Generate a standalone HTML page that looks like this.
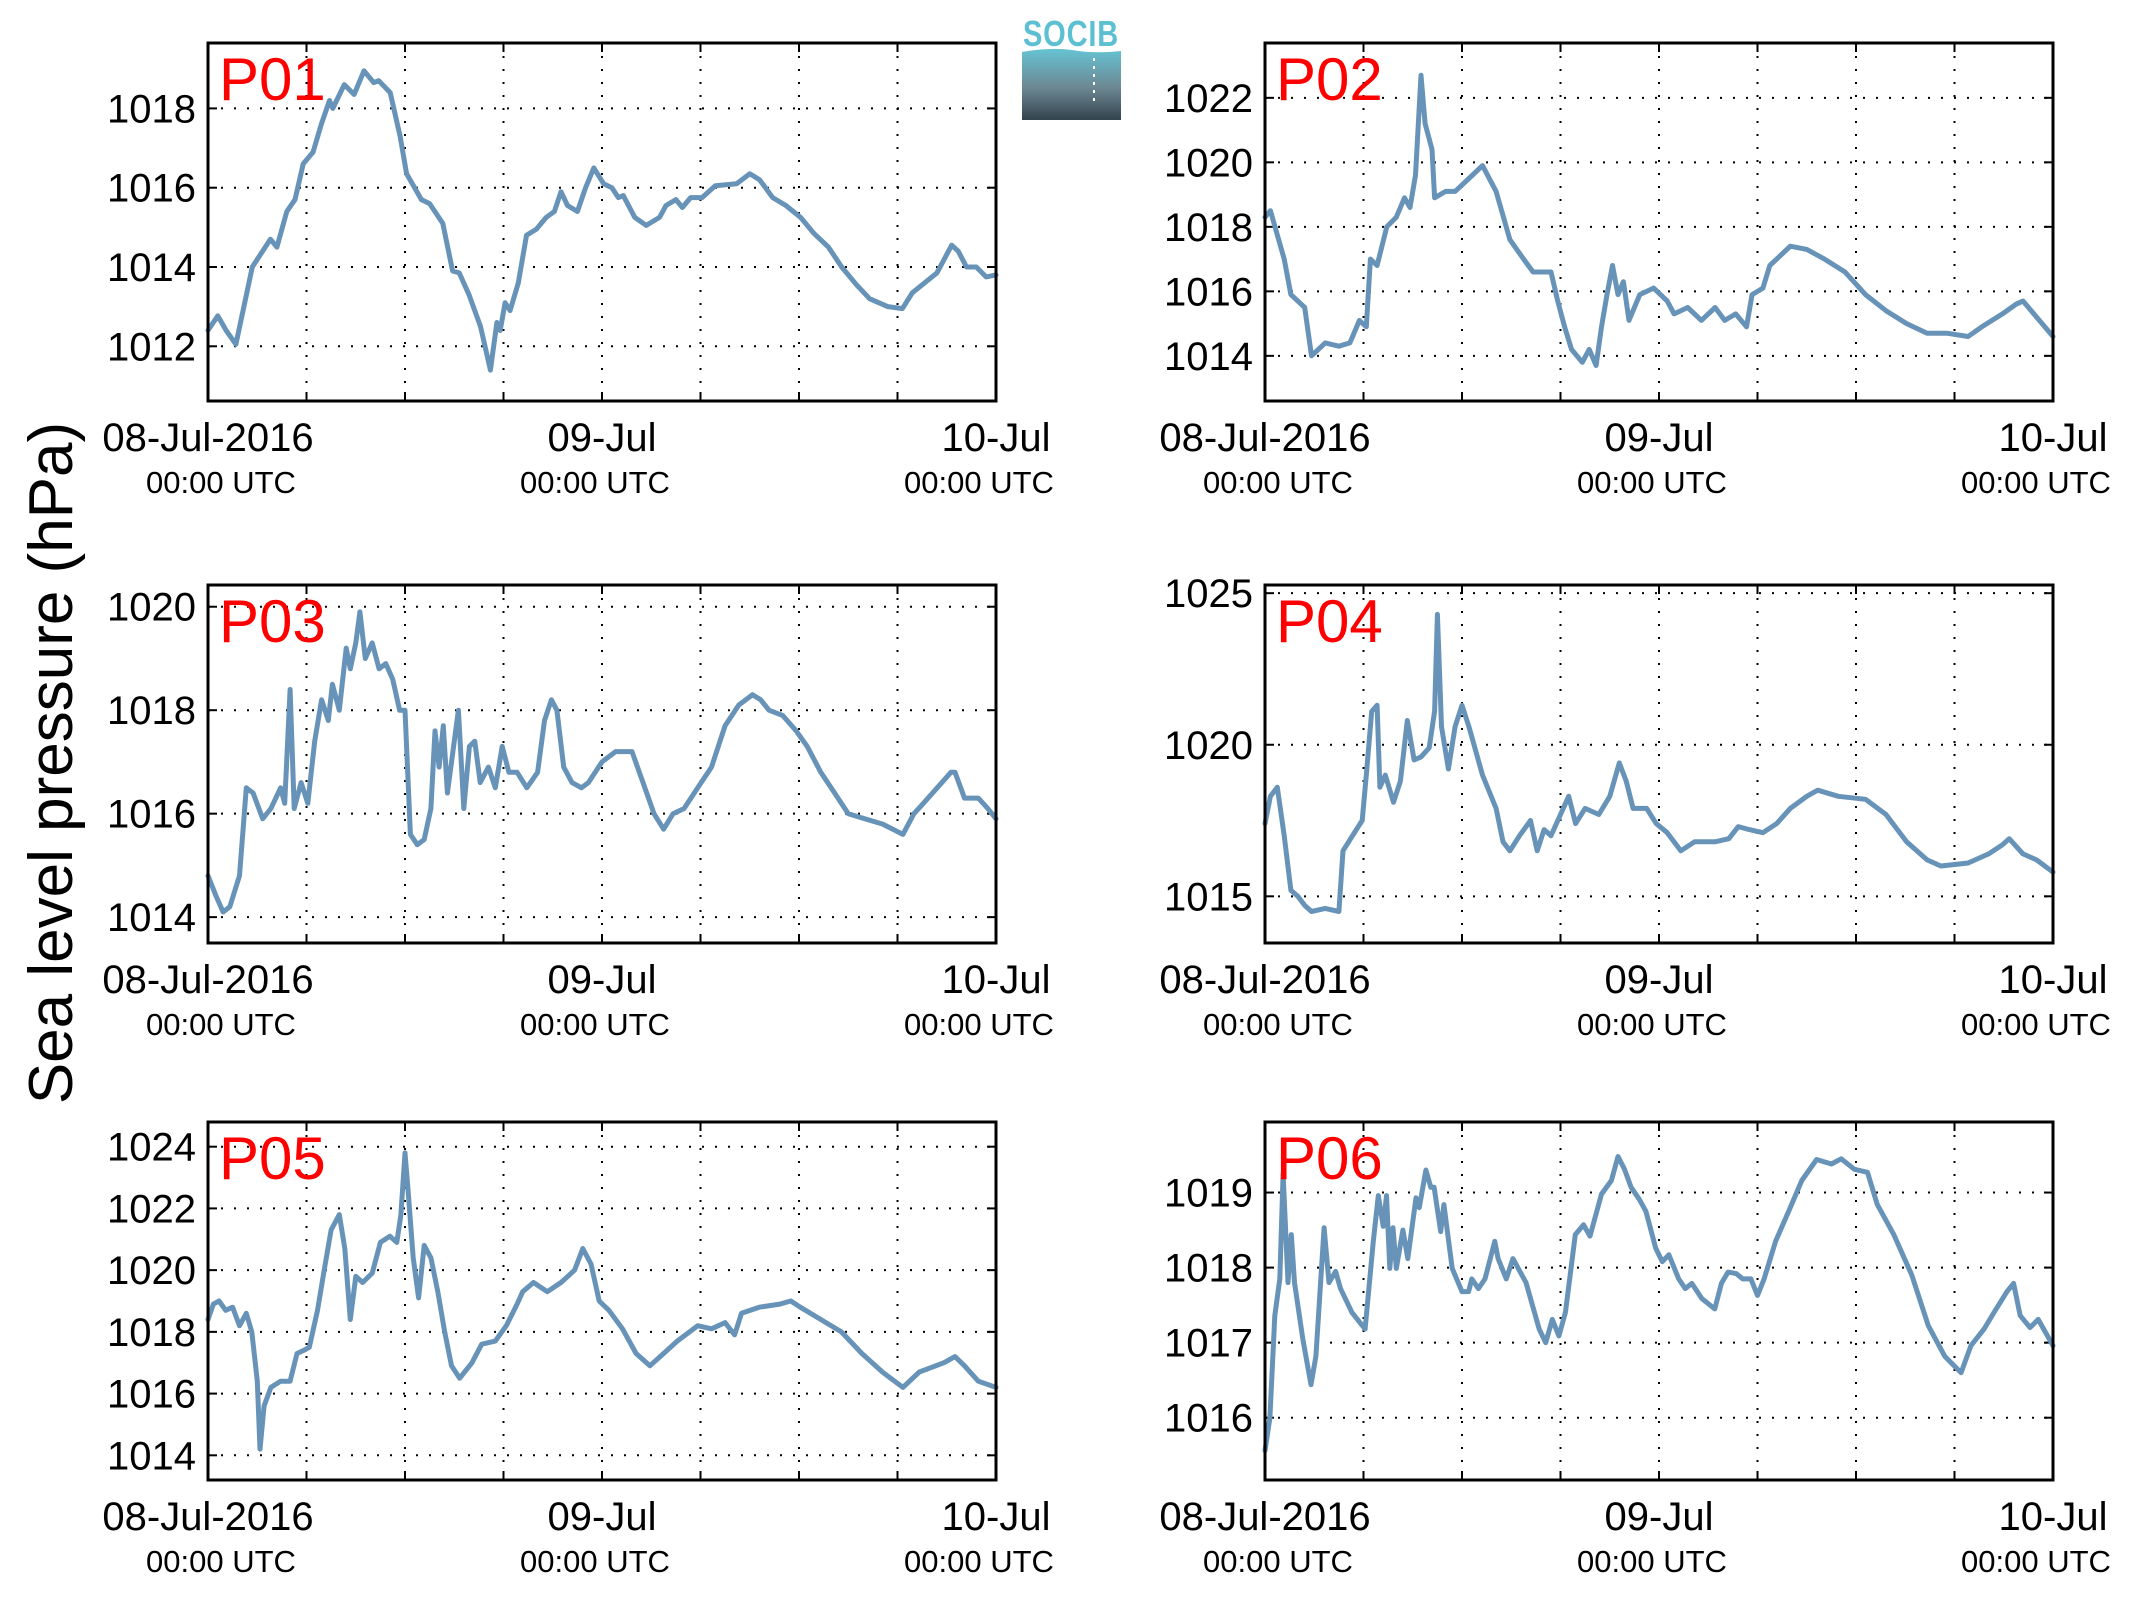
<!DOCTYPE html>
<html><head><meta charset="utf-8"><style>
html,body{margin:0;padding:0;background:#fff;}
svg{display:block;font-family:"Liberation Sans",Arial,sans-serif;}
</style></head><body>
<svg id="fig" width="2142" height="1608" viewBox="0 0 2142 1608" xmlns="http://www.w3.org/2000/svg">
<text x="0" y="0" transform="translate(72,763) rotate(-90)" text-anchor="middle" font-size="62" fill="#000">Sea level pressure (hPa)</text>
<g>
<defs><linearGradient id="lg" x1="0" y1="0" x2="0" y2="1"><stop offset="0" stop-color="#66c3d3"/><stop offset="0.55" stop-color="#6c8792"/><stop offset="1" stop-color="#33434d"/></linearGradient></defs>
<text x="1071" y="46" text-anchor="middle" font-size="36" font-weight="bold" fill="#5cc0d2" letter-spacing="1" textLength="96" lengthAdjust="spacingAndGlyphs">SOCIB</text>
<path d="M1022 52 Q1050 47 1072 50 Q1095 54 1121 51 L1121 120 L1022 120 Z" fill="url(#lg)"/>
<line x1="1094" y1="58" x2="1094" y2="106" stroke="#fff" stroke-width="2" stroke-dasharray="3,5"/>
</g>
<g id="panels"></g>
</svg>
<script>
const p01_t=[0,0.6,1.1,1.7,2.7,3.8,4.2,4.8,5.3,5.8,6.4,6.9,7.4,7.6,8.3,8.9,9.5,10.1,10.4,11.1,11.7,12.1,13.0,13.5,14.3,14.9,15.3,15.9,16.6,17.2,17.6,17.8,18.1,18.4,18.9,19.4,20.0,20.6,21.1,21.5,21.9,22.5,23.0,23.5,24.1,24.6,25.0,25.3,26.0,26.7,27.5,27.9,28.5,28.9,29.4,30.1,30.9,32.2,33.0,33.6,34.4,35.2,36.1,36.9,37.8,38.6,39.5,40.3,41.4,42.3,42.9,43.8,44.4,45.3,45.7,46.2,46.8,47.4,48];
const p01_v=[1012.4,1012.77,1012.4,1012.05,1014.0,1014.7,1014.5,1015.4,1015.7,1016.6,1016.9,1017.6,1018.2,1018.0,1018.6,1018.35,1018.95,1018.65,1018.7,1018.4,1017.3,1016.35,1015.7,1015.6,1015.1,1013.9,1013.85,1013.3,1012.5,1011.4,1012.6,1012.4,1013.1,1012.9,1013.6,1014.8,1014.95,1015.25,1015.4,1015.9,1015.55,1015.4,1016.0,1016.5,1016.1,1016.0,1015.75,1015.8,1015.25,1015.05,1015.25,1015.55,1015.7,1015.5,1015.75,1015.75,1016.05,1016.1,1016.35,1016.2,1015.75,1015.55,1015.25,1014.85,1014.5,1014.0,1013.55,1013.2,1013.0,1012.95,1013.35,1013.65,1013.85,1014.55,1014.4,1014.0,1014.0,1013.75,1013.8];
const p02_t=[0,0.33,1.17,1.58,2.42,2.83,3.67,4.5,5.17,5.75,6.17,6.42,6.83,7.42,8,8.5,8.83,9.17,9.5,9.75,10.17,10.33,11,11.58,12.42,13.25,14.08,14.92,15.75,16.33,17,17.42,17.83,18.25,18.67,19.33,19.75,20.17,20.5,20.83,21.17,21.5,21.83,22.17,22.83,23.67,24.5,24.92,25.75,26.58,27.42,28,28.67,29.33,29.67,30.33,30.75,31.17,32,33,34.08,35.33,36.58,37.83,39.08,40.33,41.58,42.83,43.67,44.92,45.75,46.17,47,48];
const p02_v=[1018.3,1018.5,1017.0,1015.9,1015.5,1014.0,1014.4,1014.3,1014.4,1015.1,1014.9,1017.0,1016.8,1018.0,1018.3,1018.9,1018.6,1019.6,1022.7,1021.2,1020.4,1018.9,1019.1,1019.1,1019.5,1019.9,1019.1,1017.6,1017.0,1016.6,1016.6,1016.6,1015.7,1014.9,1014.2,1013.8,1014.2,1013.7,1014.9,1015.9,1016.8,1015.9,1016.3,1015.1,1015.9,1016.1,1015.7,1015.3,1015.5,1015.1,1015.5,1015.1,1015.3,1014.9,1015.9,1016.1,1016.8,1017.0,1017.4,1017.3,1017.0,1016.6,1015.9,1015.4,1015.0,1014.7,1014.7,1014.6,1014.9,1015.3,1015.6,1015.7,1015.2,1014.6];
const p03_t=[0,0.5,0.92,1.33,1.92,2.33,2.75,3.33,3.83,4.42,4.67,5,5.25,5.67,6.08,6.5,6.92,7.33,7.58,8,8.42,8.67,9,9.25,9.58,10,10.42,10.83,11.25,11.67,12,12.33,12.75,13.17,13.58,13.83,14.08,14.33,14.58,14.92,15.25,15.58,15.92,16.25,16.58,17.08,17.5,17.92,18.33,18.83,19.42,20.08,20.5,20.92,21.25,21.67,22.17,22.75,23.17,24,24.83,25.83,26.5,27.17,27.75,28.33,29,29.83,30.67,31.5,32.33,33.17,33.67,34.17,35,35.83,36.5,37.33,38.17,39,40,41.08,42.33,43,43.58,44.42,45.25,45.5,46.08,46.92,47.5,48];
const p03_v=[1014.8,1014.4,1014.1,1014.2,1014.8,1016.5,1016.4,1015.9,1016.1,1016.5,1016.2,1018.4,1016.1,1016.6,1016.2,1017.4,1018.2,1017.8,1018.5,1018.0,1019.2,1018.8,1019.3,1019.9,1019.0,1019.3,1018.8,1018.9,1018.6,1018.0,1018.0,1015.6,1015.4,1015.5,1016.1,1017.6,1016.9,1017.7,1016.4,1017.2,1018.0,1016.1,1017.3,1017.4,1016.6,1016.9,1016.5,1017.3,1016.8,1016.8,1016.5,1016.8,1017.8,1018.2,1018.0,1016.9,1016.6,1016.5,1016.6,1017.0,1017.2,1017.2,1016.6,1016.0,1015.7,1016.0,1016.1,1016.5,1016.9,1017.7,1018.1,1018.3,1018.2,1018.0,1017.9,1017.6,1017.3,1016.8,1016.4,1016.0,1015.9,1015.8,1015.6,1016.0,1016.2,1016.5,1016.8,1016.8,1016.3,1016.3,1016.1,1015.9];
const p04_t=[0,0.33,0.75,1.17,1.58,2,2.42,2.83,3.67,4.5,4.75,5.33,5.92,6.17,6.5,6.83,7,7.33,7.83,8.25,8.67,9.08,9.5,10,10.33,10.5,10.75,11.17,11.58,12,12.42,13.25,14.08,14.5,14.92,15.5,16.17,16.58,17,17.42,18,18.5,18.92,19.5,20.33,21,21.58,22,22.42,23.25,23.83,24.5,25.33,26.17,27.42,28.25,28.83,29.5,30.33,31.17,32,33,33.67,34.92,36.58,37.83,39.08,40.33,41.17,42.83,44.08,44.92,45.33,46.17,47,48];
const p04_v=[1017.4,1018.3,1018.6,1017.0,1015.2,1015.0,1014.7,1014.5,1014.6,1014.5,1016.5,1017.0,1017.5,1019.0,1021.1,1021.3,1018.6,1019.0,1018.1,1018.8,1020.8,1019.5,1019.6,1019.9,1021.1,1024.3,1020.6,1019.2,1020.6,1021.3,1020.6,1019.0,1017.9,1016.8,1016.5,1017.0,1017.5,1016.5,1017.2,1017.0,1017.7,1018.3,1017.4,1017.9,1017.7,1018.3,1019.4,1018.8,1017.9,1017.9,1017.4,1017.1,1016.5,1016.8,1016.8,1016.9,1017.3,1017.2,1017.1,1017.4,1017.9,1018.3,1018.5,1018.3,1018.2,1017.7,1016.8,1016.2,1016.0,1016.1,1016.4,1016.7,1016.9,1016.4,1016.2,1015.8];
const p05_t=[0,0.33,0.67,1.08,1.5,1.92,2.33,2.67,3,3.17,3.42,3.83,4.42,5,5.42,5.83,6.17,6.67,7.08,7.5,8,8.33,8.67,9,9.42,10,10.5,11.08,11.5,11.75,12,12.17,12.5,12.83,13.17,13.58,14,14.42,14.83,15.33,16.08,16.67,17.5,18.17,18.83,19.17,19.83,20.67,21.5,21.92,22.33,22.83,23.33,23.83,24.42,25.25,26.08,26.92,27.75,28.58,29.83,30.67,31.5,32.08,32.5,33.58,34.83,35.5,36.08,37.33,38.58,39.83,41.08,42.33,43.33,44.83,45.5,46.08,46.92,48];
const p05_v=[1018.4,1018.9,1019.0,1018.7,1018.8,1018.2,1018.6,1018.0,1016.4,1014.2,1015.6,1016.2,1016.4,1016.4,1017.3,1017.4,1017.5,1018.7,1020.0,1021.3,1021.8,1020.7,1018.4,1019.8,1019.6,1019.9,1020.9,1021.1,1020.9,1021.8,1023.8,1022.7,1020.4,1019.1,1020.8,1020.4,1019.3,1018.0,1016.9,1016.5,1017.0,1017.6,1017.7,1018.2,1018.9,1019.3,1019.6,1019.3,1019.6,1019.8,1020.0,1020.7,1020.2,1019.0,1018.7,1018.1,1017.3,1016.9,1017.3,1017.7,1018.2,1018.1,1018.3,1017.9,1018.6,1018.8,1018.9,1019.0,1018.8,1018.4,1018.0,1017.3,1016.7,1016.2,1016.7,1017.0,1017.2,1016.9,1016.4,1016.2];
const p06_t=[0,0.3,0.6,0.9,1.1,1.4,1.6,1.8,2.3,2.8,3.1,3.6,3.9,4.3,4.6,5.3,6.1,6.6,6.9,7.2,7.4,7.6,7.8,8.0,8.4,8.7,9.2,9.4,9.8,10.1,10.3,10.7,10.9,11.4,12.0,12.4,12.6,13.0,13.4,14.0,14.2,14.7,15.1,15.9,16.7,17.1,17.5,17.9,18.3,18.9,19.4,19.8,20.5,21.1,21.5,21.9,22.3,22.8,23.2,23.8,24.2,24.6,25.2,25.6,26.0,26.6,27.4,27.8,28.2,28.7,29.1,29.6,30.0,30.4,31.1,31.9,32.7,33.6,34.5,35.1,35.9,36.7,37.3,38.3,39.4,40.4,41.4,42.4,43.0,43.8,44.4,45.2,45.6,46.0,46.6,47.1,48.0];
const p06_v=[1015.56,1016.0,1017.36,1017.85,1019.25,1017.8,1018.44,1017.8,1017.05,1016.44,1016.82,1018.53,1017.8,1017.95,1017.72,1017.4,1017.18,1018.35,1018.96,1018.55,1018.96,1017.99,1018.53,1017.99,1018.5,1018.12,1018.93,1018.8,1019.3,1019.07,1019.07,1018.48,1018.84,1017.99,1017.68,1017.68,1017.85,1017.72,1017.85,1018.35,1018.12,1017.85,1018.12,1017.8,1017.18,1017.0,1017.31,1017.09,1017.4,1018.44,1018.57,1018.42,1018.98,1019.16,1019.48,1019.31,1019.07,1018.91,1018.75,1018.26,1018.08,1018.17,1017.85,1017.72,1017.79,1017.59,1017.45,1017.79,1017.94,1017.92,1017.85,1017.85,1017.63,1017.85,1018.35,1018.75,1019.16,1019.44,1019.38,1019.45,1019.31,1019.27,1018.84,1018.44,1017.9,1017.23,1016.82,1016.6,1016.96,1017.18,1017.4,1017.68,1017.79,1017.36,1017.2,1017.31,1016.96];
const panelNames=["P01","P02","P03","P04","P05","P06"];
const yMin=[1010.62,1012.6,1013.5,1013.46,1013.2,1015.17];
const yMax=[1019.65,1023.7,1020.42,1025.27,1024.8,1019.94];
const yTicks=[[1012,1014,1016,1018],[1014,1016,1018,1020,1022],[1014,1016,1018,1020],[1015,1020,1025],[1014,1016,1018,1020,1022,1024],[1016,1017,1018,1019]];
const xTickHours=[0,6,12,18,24,30,36,42,48];
const dateLabels=["08-Jul-2016","09-Jul","10-Jul"];
const dateHours=[0,24,48];
const series=[[p01_t,p01_v],[p02_t,p02_v],[p03_t,p03_v],[p04_t,p04_v],[p05_t,p05_v],[p06_t,p06_v]];

const NS="http://www.w3.org/2000/svg";
const root=document.getElementById('panels');
function mk(tag,attrs,parent){const e=document.createElementNS(NS,tag);for(const k in attrs)e.setAttribute(k,attrs[k]);parent.appendChild(e);return e;}
const colX=[208,1265], rowY=[43,585,1122], W=788, H=358;
const utcDx=[13,-7,-17];
for(let i=0;i<6;i++){
  const x0=colX[i%2], y0=rowY[Math.floor(i/2)];
  const g=mk('g',{},root);
  
  
  const xs=h=>x0+h/48*W;
  const ys=v=>y0+H-(v-yMin[i])/(yMax[i]-yMin[i])*H;
  xTickHours.forEach(h=>{
    if(h===0||h===48)return;
    const l=mk('line',{x1:xs(h),x2:xs(h),y1:y0,y2:y0+H,stroke:'#000','stroke-width':2,'stroke-dasharray':'2,11'},g);
    
    
    mk('line',{x1:xs(h),x2:xs(h),y1:y0,y2:y0+9,stroke:'#000','stroke-width':2},g);
    mk('line',{x1:xs(h),x2:xs(h),y1:y0+H,y2:y0+H-9,stroke:'#000','stroke-width':2},g);
  });
  yTicks[i].forEach(v=>{
    const l=mk('line',{x1:x0,x2:x0+W,y1:ys(v),y2:ys(v),stroke:'#000','stroke-width':2,'stroke-dasharray':'2,11'},g);
    
    
    mk('line',{x1:x0,x2:x0+9,y1:ys(v),y2:ys(v),stroke:'#000','stroke-width':2},g);
    mk('line',{x1:x0+W,x2:x0+W-9,y1:ys(v),y2:ys(v),stroke:'#000','stroke-width':2},g);
    const t=mk('text',{x:x0-12,y:ys(v)+14,'text-anchor':'end','font-size':40,fill:'#000'},g);
    
    
    t.textContent=v;
  });
  dateHours.forEach((h,k)=>{
    const t=mk('text',{x:xs(h),y:y0+H+50,'text-anchor':'middle','font-size':40,fill:'#000'},g);
    
    
    t.textContent=dateLabels[k];
    const u=mk('text',{x:xs(h)+utcDx[k],y:y0+H+92,'text-anchor':'middle','font-size':31,fill:'#000'},g);
    
    
    u.textContent='00:00 UTC';
  });
  const [ts,vs]=series[i];
  let d='';
  for(let k=0;k<ts.length;k++) d+=(k?'L':'M')+xs(ts[k]).toFixed(1)+' '+ys(vs[k]).toFixed(1);
  const p=mk('path',{d:d,fill:'none',stroke:'#6893b8','stroke-width':5,'stroke-linejoin':'round','stroke-linecap':'round'},g);
  
  
  const b=mk('rect',{x:x0,y:y0,width:W,height:H,fill:'none',stroke:'#000','stroke-width':3},g);
  
  
  const lab=mk('text',{x:x0+11,y:y0+57,'font-size':60,fill:'#ff0000'},g);
  
  
  lab.textContent=panelNames[i];
}
</script>
</body></html>
